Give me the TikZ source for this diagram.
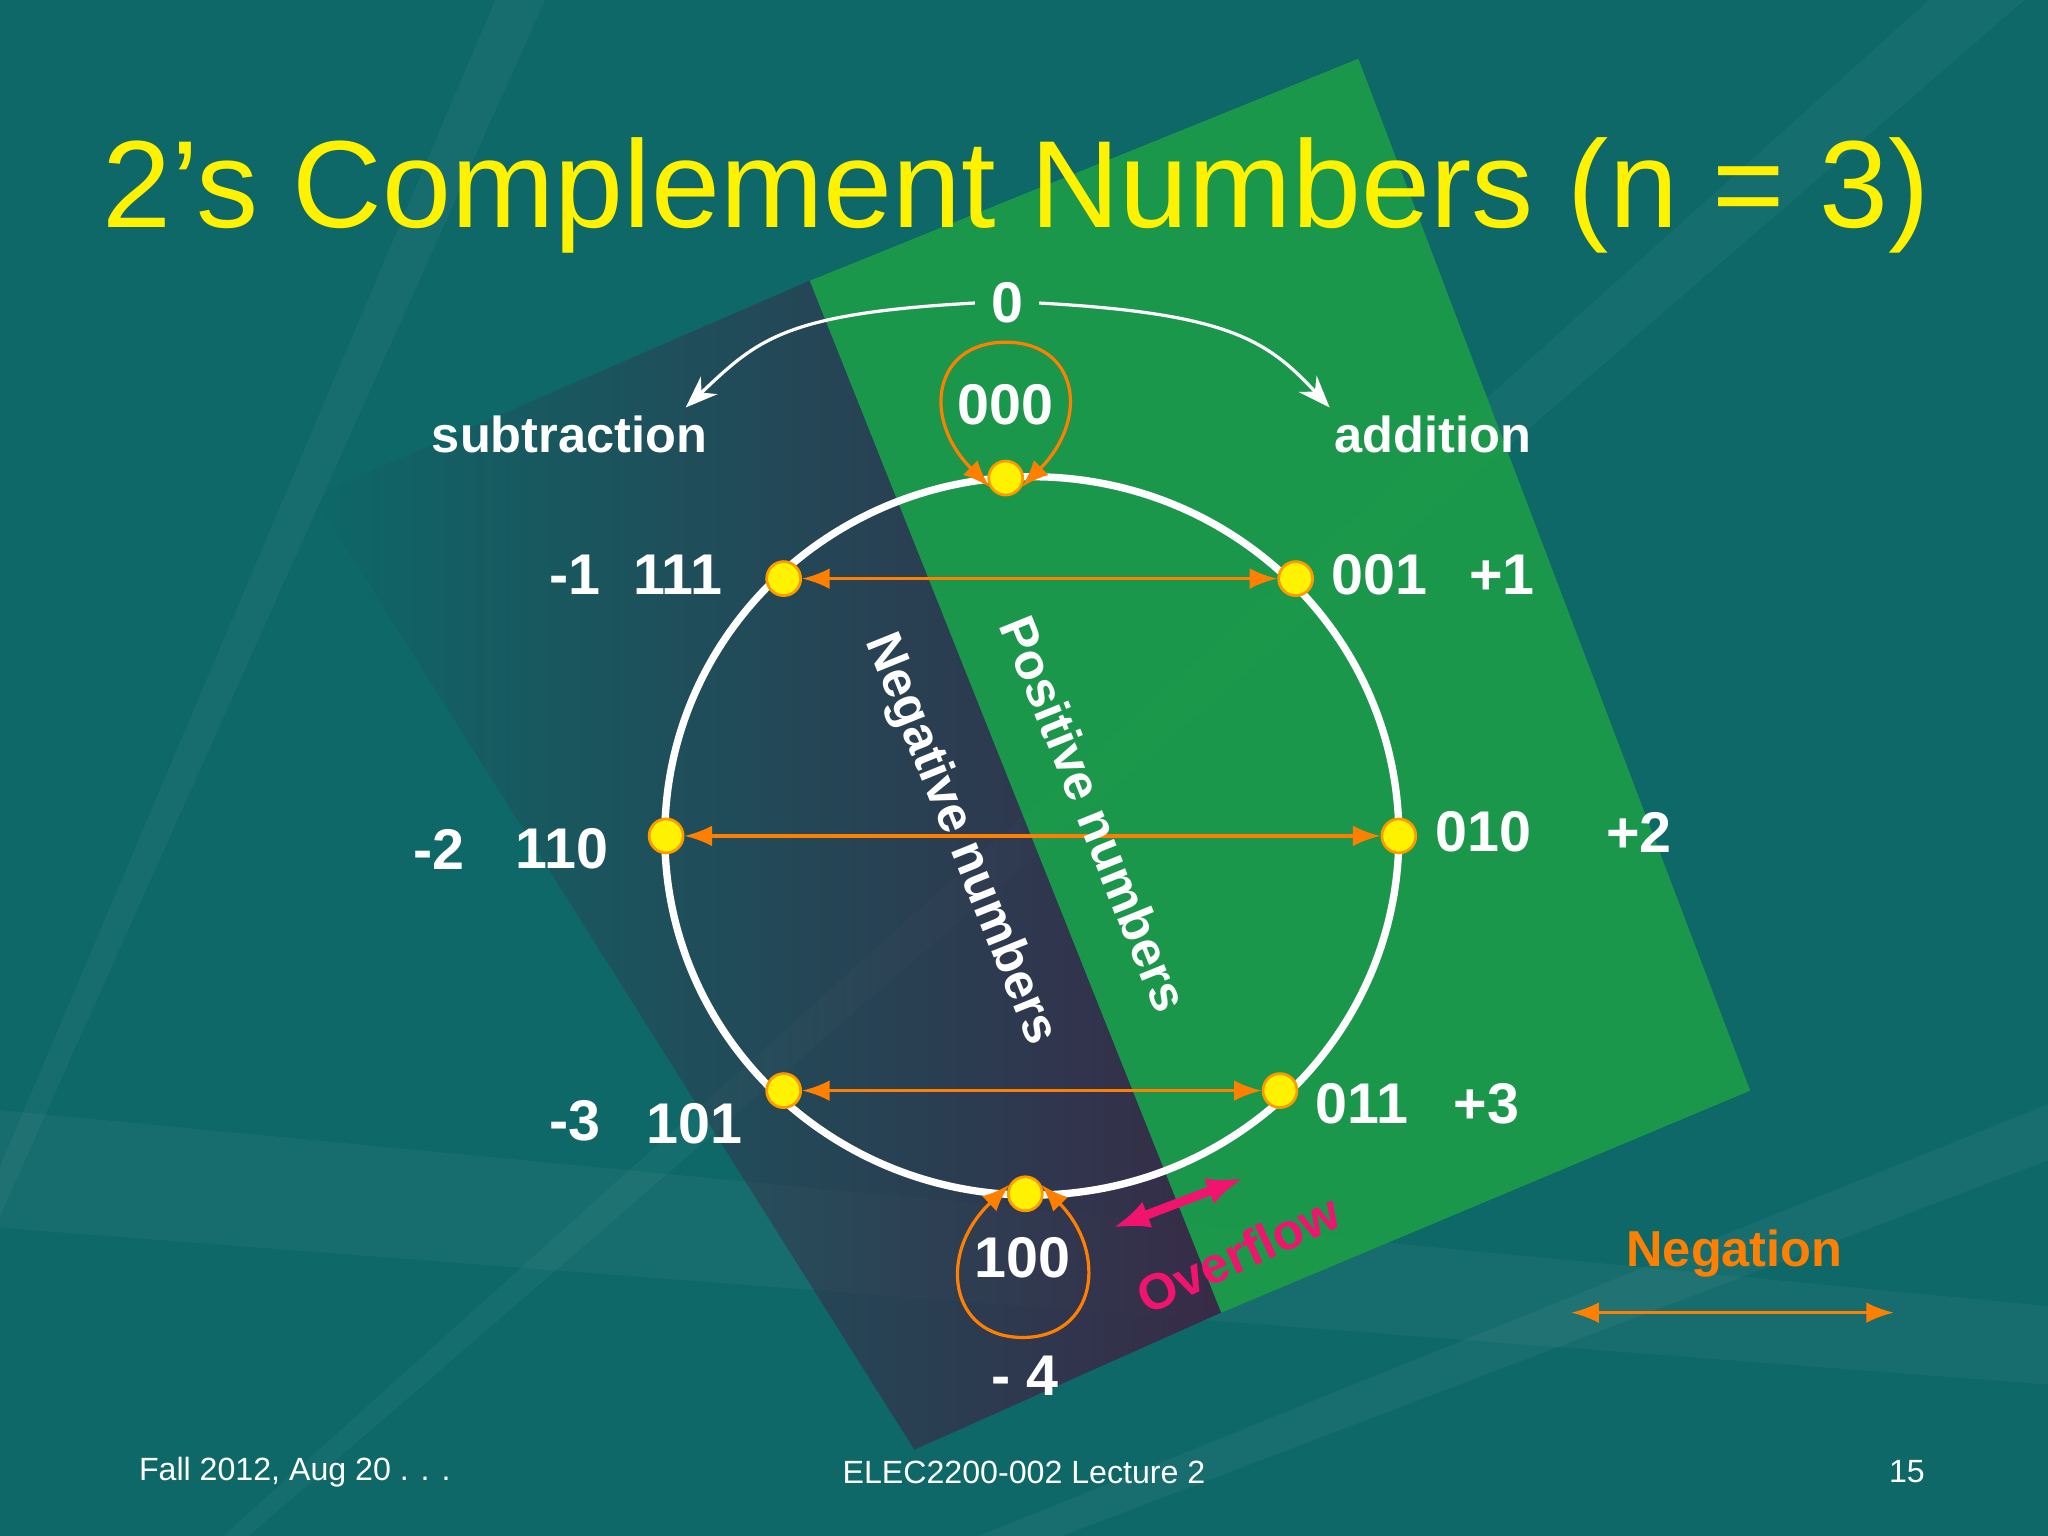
\documentclass[tikz,border=0pt]{standalone}
\usepackage{fontspec}
\setmainfont{Liberation Sans}
\usetikzlibrary{arrows.meta,fadings}
\begin{document}
\begin{tikzpicture}[x=0.01cm,y=-0.01cm,
 dot/.style={circle,fill=yellow,draw=orange!80!yellow,inner sep=0pt,line width=0.6pt,minimum size=0.26cm},
 lab/.style={text=white,font=\fontsize{12.5}{15}\selectfont\bfseries},
 neg/.style={draw=orange,line width=0.7pt,{Latex[length=6pt]}-{Latex[length=6pt]}}]
\useasboundingbox (0,0) rectangle (1568,1176);
\fill[color={rgb,255:red,14;green,104;blue,104}] (0,0) rectangle (1568,1176);
% rays
\foreach \a/\o in {200/0.05,215/0.035,230/0.045,250/0.03,275/0.04,300/0.035,320/0.045,340/0.03}
  \fill[white,opacity=\o] (-300,1600) -- ++(\a+18:3000) -- ++(\a+108:60) -- cycle;
\fill[white,opacity=0.04] (0,850) -- (1568,1000) -- (1568,1060) -- (0,940) -- cycle;
% purple and green bands
\fill[color={rgb,255:red,58;green,40;blue,70},opacity=0.95,path fading=west] (620,215) -- (935,1005) -- (700,1110) -- (240,380) -- cycle;
\fill[color={rgb,255:red,30;green,160;blue,70},opacity=0.85] (620,215) -- (1040,45) -- (1340,835) -- (935,1005) -- cycle;
% title
\node[text=yellow,font=\fontsize{27}{30}\selectfont] (title) at (778,150) {2’s Complement Numbers (n = 3)};
% circle
\draw[white,line width=1.6pt] (790,640) ellipse [x radius=281,y radius=275];
\node[dot] (p0) at (770,366) {};
\node[dot] (p1) at (992,443) {};
\node[dot] (p7) at (600,443) {};
\node[dot] (p2) at (1071,640) {};
\node[dot] (p6) at (510,640) {};
\node[dot] (p3) at (980,835) {};
\node[dot] (p5) at (600,835) {};
\node[dot] (p4) at (785,914) {};
\draw[neg] (p7) -- (p1);
\draw[neg] (p6) -- (p2);
\draw[neg] (p5) -- (p3);
% loops
\draw[neg] (p0.210) .. controls (705,320) and (715,262) .. (770,262) .. controls (825,262) and (835,320) .. (p0.330);
\draw[neg] (p4.150) .. controls (717,960) and (727,1024) .. (783,1024) .. controls (839,1024) and (849,960) .. (p4.30);
% labels
\node[lab] (l000) at (770,310) {000};
\node[lab] (l100) at (783,963) {100};
\node[lab] (z) at (771,232) {0};
\node[lab] (m4) at (785,1053) {- 4};
\node[lab] (l111) at (519,440) {111};
\node[lab] (m1) at (440,440) {-1};
\node[lab] (l001) at (1056,440) {001};
\node[lab] (p1l) at (1150,440) {+1};
\node[lab] (l110) at (430,650) {110};
\node[lab] (m2) at (336,650) {-2};
\node[lab] (l010) at (1136,637) {010};
\node[lab] (p2l) at (1255,637) {+2};
\node[lab] (l101) at (532,860) {101};
\node[lab] (m3) at (440,858) {-3};
\node[lab] (l011) at (1043,845) {011};
\node[lab] (p3l) at (1138,845) {+3};
\node[lab,font=\fontsize{11}{14}\selectfont\bfseries] (sub) at (436,333) {subtraction};
\node[lab,font=\fontsize{11}{14}\selectfont\bfseries] (add) at (1097,333) {addition};
\draw[white,line width=0.7pt,-{Stealth[length=7pt]}] (z.west) .. controls (600,240) and (580,260) .. (525,312);
\draw[white,line width=0.7pt,-{Stealth[length=7pt]}] (z.east) .. controls (940,240) and (970,260) .. (1018,312);
\node[lab,font=\fontsize{11}{14}\selectfont\bfseries,rotate=-68] (negn) at (735,643) {Negative numbers};
\node[lab,font=\fontsize{11}{14}\selectfont\bfseries,rotate=-68] (posn) at (838,623) {Positive numbers};
\node[font=\fontsize{11}{14}\selectfont\bfseries,text={rgb,255:red,240;green,20;blue,110},rotate=25] (ovf) at (948,960) {Overflow};
\coordinate (o1) at (852,940); \coordinate (o2) at (952,902);
\draw[color={rgb,255:red,240;green,20;blue,110},line width=2pt,{Latex[length=8pt]}-{Latex[length=8pt]}] (o1) -- (o2);
\node[font=\fontsize{11}{14}\selectfont\bfseries,text=orange] (negl) at (1328,960) {Negation};
\coordinate (n1) at (1203,1005); \coordinate (n2) at (1450,1005);
\draw[neg] (n1) -- (n2);
% footer
\node[white,font=\fontsize{7}{8}\selectfont,anchor=west] (f1) at (94,1127) {Fall 2012, Aug 20 . . .};
\node[white,font=\fontsize{7}{8}\selectfont] (f2) at (784,1127) {ELEC2200-002 Lecture 2};
\node[white,font=\fontsize{7}{8}\selectfont] (f3) at (1460,1127) {15};
\end{tikzpicture}
\end{document}
